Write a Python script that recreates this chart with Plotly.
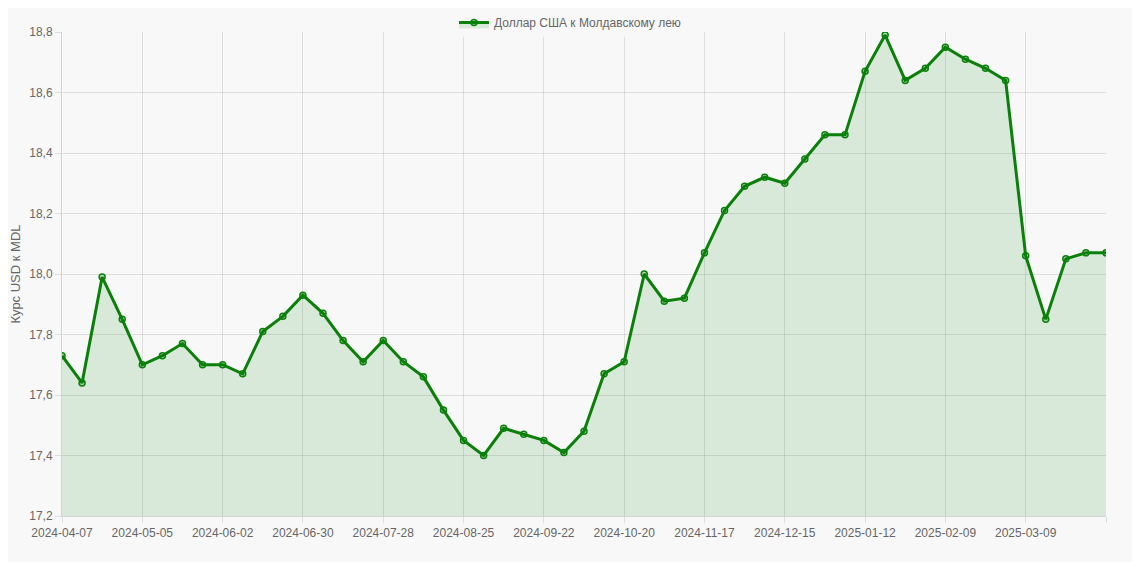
import plotly.graph_objects as go
import datetime as dt

start = dt.date(2024, 4, 7)
dates = [(start + dt.timedelta(weeks=i)).isoformat() for i in range(52)] + ["2025-03-31"]
values = [17.73, 17.64, 17.99, 17.85, 17.70, 17.73, 17.77, 17.70, 17.70, 17.67,
          17.81, 17.86, 17.93, 17.87, 17.78, 17.71, 17.78, 17.71, 17.66, 17.55,
          17.45, 17.40, 17.49, 17.47, 17.45, 17.41, 17.48, 17.67, 17.71, 18.00,
          17.91, 17.92, 18.07, 18.21, 18.29, 18.32, 18.30, 18.38, 18.46, 18.46,
          18.67, 18.79, 18.64, 18.68, 18.75, 18.71, 18.68, 18.64, 18.06, 17.85,
          18.05, 18.07, 18.07]
tick_labels = [dates[i] for i in range(0, 52, 4)] + [dates[-1]]
x_idx = list(range(len(dates)))
tick_pos = [i for i in range(0, 52, 4)] + [len(dates) - 1]

fig = go.Figure()
fig.add_trace(go.Scatter(
    x=x_idx, y=values, name="Доллар США к Молдавскому лею",
    mode="lines+markers", fill="tozeroy", fillcolor="rgba(0,128,0,0.12)",
    line=dict(color="#0a800a", width=3),
    marker=dict(size=6, color="rgba(0,128,0,0.25)", line=dict(color="#0a800a", width=1.5)),
))
fig.update_layout(
    width=1124, height=554, paper_bgcolor="#f8f8f8", plot_bgcolor="#f8f8f8",
    margin=dict(l=54, r=26, t=24, b=46, autoexpand=False),
    font=dict(family="Liberation Sans, Arial", size=12, color="#666"),
    showlegend=True,
    legend=dict(orientation="h", x=0.5, xanchor="center", xref="container",
                y=1.0, yanchor="top", yref="container",
                font=dict(size=12, color="#666")),
    xaxis=dict(range=[0, len(dates) - 1], tickvals=tick_pos, ticktext=tick_labels,
               showgrid=True, gridcolor="rgba(0,0,0,0.1)", zeroline=False,
               showline=True, linecolor="rgba(0,0,0,0.15)", ticks="outside",
               ticklen=6, tickcolor="rgba(0,0,0,0.1)", automargin=False),
    yaxis=dict(range=[17.2, 18.8], dtick=0.2, tickformat=".1f",
               showgrid=True, gridcolor="rgba(0,0,0,0.1)", zeroline=False,
               showline=True, linecolor="rgba(0,0,0,0.15)", ticks="outside",
               ticklen=6, tickcolor="rgba(0,0,0,0.1)", automargin=False,
               title=dict(text="Курс USD к MDL", font=dict(size=13), standoff=8)),
    separators=", ",
)
fig.write_html("out.html")
